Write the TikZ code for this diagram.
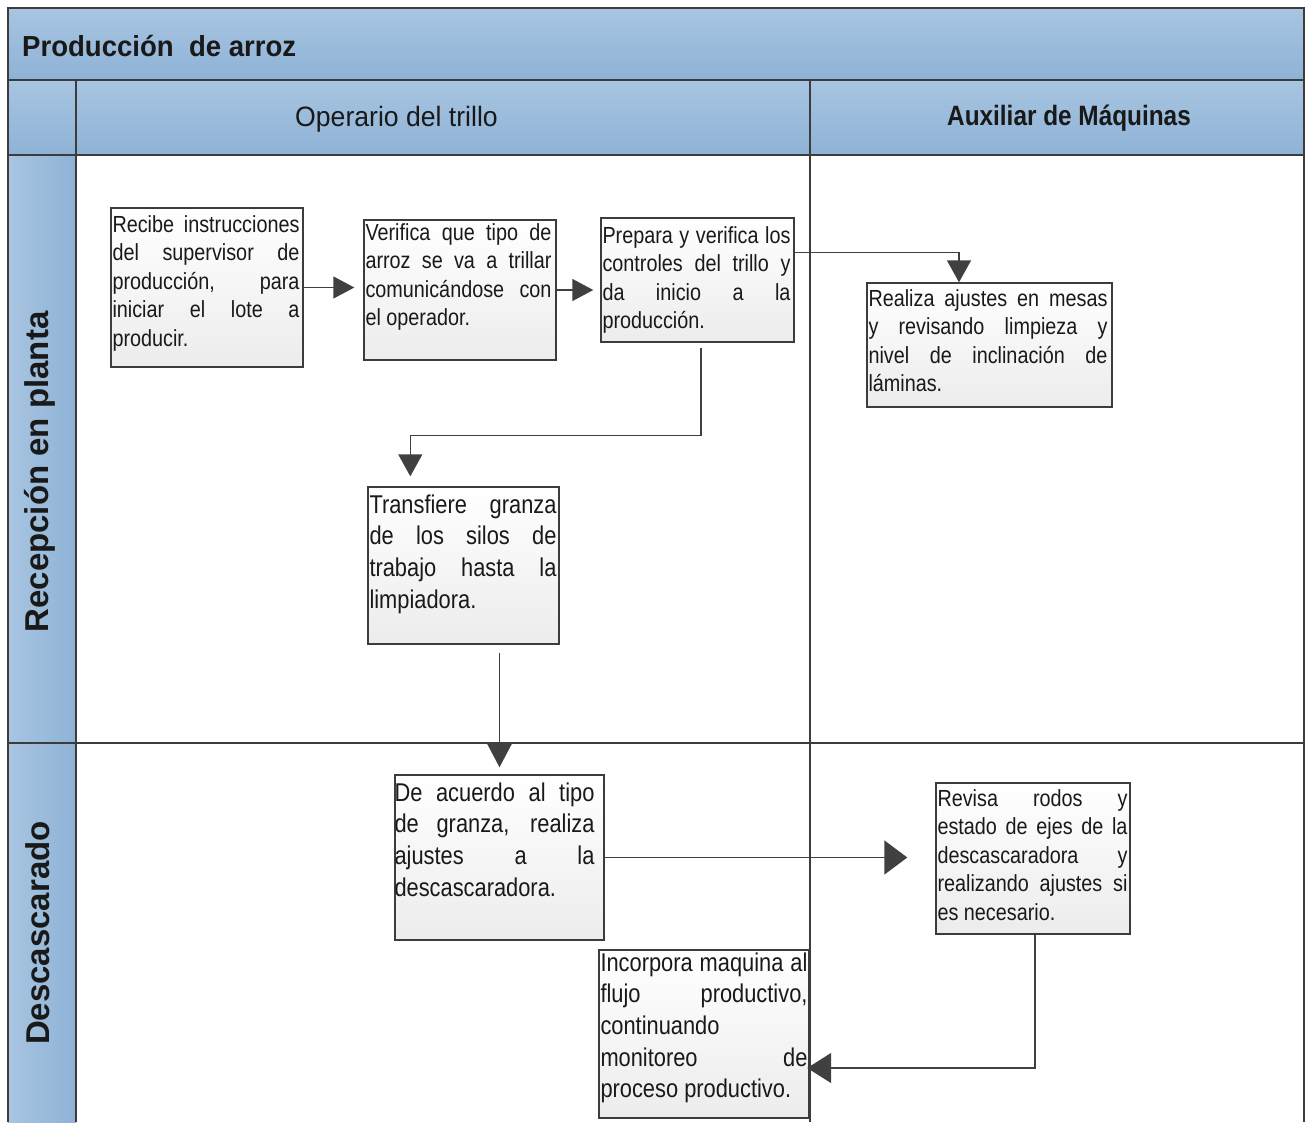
\documentclass[tikz,border=0pt]{standalone}
\usepackage{fontspec}
\setmainfont{Liberation Sans}
\newfontfamily\fTitle[FakeStretch=0.95]{Liberation Sans}
\newfontfamily\fAux[FakeStretch=0.87]{Liberation Sans}
\newfontfamily\fNar[FakeStretch=0.85]{Liberation Sans}
\usetikzlibrary{arrows.meta,shadings}
\definecolor{lc}{RGB}{60,60,60}
\definecolor{bandA}{RGB}{168,197,225}
\definecolor{bandB}{RGB}{142,178,214}
\definecolor{boxg}{RGB}{236,236,236}
\definecolor{txtc}{RGB}{25,25,25}
\definecolor{arr}{RGB}{64,64,64}
\newcommand\jl[1]{\hbox to \hsize{\spaceskip=0.25em plus 1fil\relax #1}}
\newcommand\lastl[1]{\hbox{#1}}
\newcommand\tb[2]{\vbox{\hsize=#1\relax #2}}
\hbadness=10000
\hfuzz=40pt
\tikzset{
  frame/.style={draw=lc, line width=1.7pt},
  procbox/.style={draw=lc, line width=1.4pt, top color=white, bottom color=boxg, inner sep=0pt},
  smalltxt/.style={inner sep=0pt, anchor=north west, text=txtc, font=\fNar\fontsize{23.3}{28.5}\selectfont},
  largetxt/.style={inner sep=0pt, anchor=north west, text=txtc, font=\fNar\fontsize{25.7}{31.7}\selectfont},
  flow/.style={draw=arr, line width=1.4pt, -{Triangle[length=22pt,width=24pt]}},
}
\begin{document}
\begin{tikzpicture}[x=1pt,y=-1pt]
\useasboundingbox (0,0) rectangle (1306,1122);
\fill[white] (0,0) rectangle (1306,1122);
% bands
\fill[top color=bandA, bottom color=bandB] (8,8) rectangle (1304,80);
\fill[top color=bandA, bottom color=bandB] (8,80) rectangle (1304,155);
\fill[left color=bandA, right color=bandB] (8,155) rectangle (76,1122);
% grid lines
\draw[frame] (8,1122) -- (8,8) -- (1304,8) -- (1304,1122);
\draw[frame] (8,80) -- (1304,80);
\draw[frame] (8,155) -- (1304,155);
\draw[frame] (8,743) -- (1304,743);
\draw[frame] (76,80) -- (76,1122);
\draw[frame] (810,80) -- (810,1122);
% header texts
\node[anchor=base west, inner sep=0pt, text=txtc, font=\fTitle\bfseries\fontsize{29}{35}\selectfont] (title) at (22,56) {Producción\ \ de arroz};
\node[anchor=base, inner sep=0pt, text=txtc, font=\fTitle\fontsize{28}{34}\selectfont] (col1) at (396.5,126) {Operario del trillo};
\node[anchor=base, inner sep=0pt, text=txtc, font=\fAux\bfseries\fontsize{28}{34}\selectfont] (col2) at (1069,125) {Auxiliar de Máquinas};
\node[rotate=90, inner sep=0pt, text=txtc, font=\bfseries\fontsize{33}{40}\selectfont] (lane1) at (40,472) {Recepción en planta};
\node[rotate=90, inner sep=0pt, text=txtc, font=\bfseries\fontsize{33}{40}\selectfont] (lane2) at (38,933) {Descascarado};
% boxes
\node[procbox, minimum width=192pt, minimum height=159pt] (A) at (207,287.5) {};
\node[procbox, minimum width=192pt, minimum height=140pt] (B) at (460,290) {};
\node[procbox, minimum width=193pt, minimum height=124pt] (C) at (697.5,280) {};
\node[procbox, minimum width=245pt, minimum height=124pt] (D) at (989.5,345) {};
\node[procbox, minimum width=191pt, minimum height=157pt] (E) at (463.5,565.5) {};
\node[procbox, minimum width=209pt, minimum height=165pt] (F) at (499.5,857.5) {};
\node[procbox, minimum width=194pt, minimum height=151pt] (G) at (1033,858.5) {};
\node[procbox, minimum width=210pt, minimum height=168pt] (H) at (704,1034) {};
% texts
\node[smalltxt] (At) at ([xshift=2pt,yshift=-8pt]A.north west)
  {\tb{187pt}{\jl{Recibe instrucciones}\jl{del supervisor de}\jl{producción, para}\jl{iniciar el lote a}\lastl{producir.}}};
\node[smalltxt] (Bt) at ([xshift=2pt,yshift=-4pt]B.north west)
  {\tb{186pt}{\jl{Verifica que tipo de}\jl{arroz se va a trillar}\jl{comunicándose con}\lastl{el operador.}}};
\node[smalltxt] (Ct) at ([xshift=2pt,yshift=-9pt]C.north west)
  {\tb{188pt}{\jl{Prepara y verifica los}\jl{controles del trillo y}\jl{da inicio a la}\lastl{producción.}}};
\node[smalltxt] (Dt) at ([xshift=2pt,yshift=-7pt]D.north west)
  {\tb{239pt}{\jl{Realiza ajustes en mesas}\jl{y revisando limpieza y}\jl{nivel de inclinación de}\lastl{láminas.}}};
\node[largetxt] (Et) at ([xshift=2pt,yshift=-8pt]E.north west)
  {\tb{187pt}{\jl{Transfiere granza}\jl{de los silos de}\jl{trabajo hasta la}\lastl{limpiadora.}}};
\node[largetxt] (Ft) at ([xshift=0pt,yshift=-8pt]F.north west)
  {\tb{200pt}{\jl{De acuerdo al tipo}\jl{de granza, realiza}\jl{ajustes a la}\lastl{descascaradora.}}};
\node[smalltxt] (Gt) at ([xshift=2pt,yshift=-7pt]G.north west)
  {\tb{190pt}{\jl{Revisa rodos y}\jl{estado de ejes de la}\jl{descascaradora y}\jl{realizando ajustes si}\lastl{es necesario.}}};
\node[largetxt] (Ht) at ([xshift=2pt,yshift=-3pt]H.north west)
  {\tb{207pt}{\jl{Incorpora maquina al}\jl{flujo productivo,}\lastl{continuando}\jl{monitoreo de}\lastl{proceso productivo.}}};
% connectors
\draw[flow, shorten >=9pt, -{Triangle[length=21pt,width=22pt]}] (A.east) -- (A.east -| B.west);
\draw[flow, shorten >=7pt, -{Triangle[length=21pt,width=22pt]}] (B.east) -- (B.east -| C.west);
\draw[flow] ([yshift=-35pt]C.north east) -| ([xshift=-30.5pt]D.north);
\draw[flow, shorten <=5pt, shorten >=10pt] ([xshift=3.5pt]C.south) -- ++(0,93) -| ([xshift=43pt]E.north west);
\draw[flow, shorten <=8pt, shorten >=7pt, -{Triangle[length=25pt,width=26pt]}] (E.south -| F.north) -- (F.north);
\draw[flow, shorten >=28pt, -{Triangle[length=23pt,width=34pt]}] (F.east) -- (F.east -| G.west);
\draw[flow, shorten >=-2.5pt, -{Triangle[length=24pt,width=30pt]}] ([xshift=2pt]G.south) |- ([yshift=-34pt]H.east);
\end{tikzpicture}
\end{document}
